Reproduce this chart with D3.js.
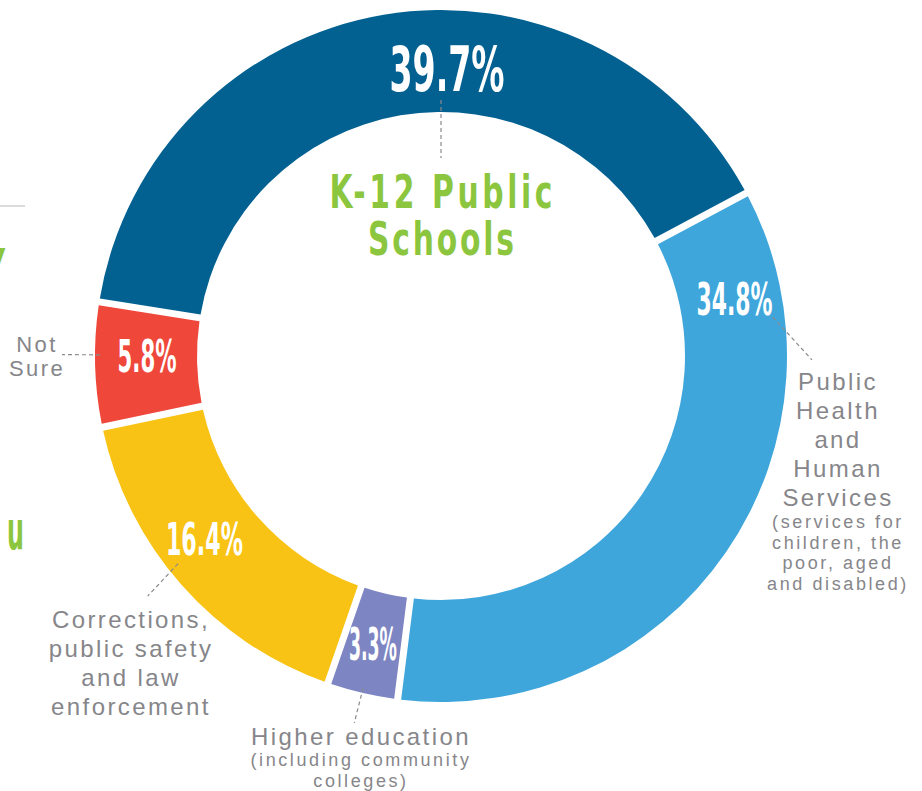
<!DOCTYPE html>
<html>
<head>
<meta charset="utf-8">
<script src="https://cdn.jsdelivr.net/npm/d3@7"></script>
<style>
  html, body { margin: 0; padding: 0; background: #fff; }
  svg { display: block; }
</style>
</head>
<body>
<div id="chart"></div>
<script>
// data
var categories = ["K-12 Public Schools", "Public Health and Human Services", "Higher education",
                  "Corrections, public safety and law enforcement", "Not Sure"];
var values = [39.7, 34.8, 3.3, 16.4, 5.8];
var colors = ["#036192", "#3fa6db", "#7d85c2", "#f8c315", "#ef473a"];

// label text, split the way the picture wraps it
var nameLines = [
  [],
  ["Public", "Health", "and", "Human", "Services"],
  ["Higher education"],
  ["Corrections,", "public safety", "and law", "enforcement"],
  ["Not", "Sure"]
];
var noteLines = [
  [],
  ["(services for", "children, the", "poor, aged", "and disabled)"],
  ["(including community", "colleges)"],
  [],
  []
];

(function() {
    'use strict';
    var width = 922, height = 791;
    var cx = 441, cy = 356;
    var outerR = 346, innerR = 244;
    var deg = Math.PI / 180;
    var startA = -81 * deg;
    var grey = "#86868a", green = "#8cc63f";
    var condensed = "'Liberation Sans Narrow', 'DejaVu Sans Condensed', 'Roboto Condensed', Arial, sans-serif";
    var plain = "'Liberation Sans', Arial, Helvetica, sans-serif";

    // layout per slice: where the % sits, its size, and the leader line (angle deg, radius)
    var layout = [
      {pa: 1.2,   pr: 288, fs: 63, w: 115, lead: [[0, 256], [0, 198]]},
      {pa: 79,    pr: 299, fs: 44, w: 76,  lead: [[83.3, 334], [90.6, 371]], tx: 838, ty: 390, step: 29, fz: 24, ny: 528},
      {pa: 193.3, pr: 296, fs: 44, w: 48,  lead: [[193.2, 341], [193.3, 377]], tx: 361, ty: 745, step: 29, fz: 24, ny: 766},
      {pa: 232.3, pr: 299, fs: 44, w: 77,  lead: [[231.7, 335], [230.7, 379]], tx: 131, ty: 628, step: 29, fz: 24},
      {pa: 270,   pr: 294, fs: 44, w: 59,  lead: [[270.2, 341], [270.2, 379]], tx: 37, ty: 352, step: 24, fz: 22}
    ];

    function polar(a, r) {
      return [cx + r * Math.sin(a * deg), cy - r * Math.cos(a * deg)];
    }

    var svg = d3.select("#chart").append("svg").attr("width", width).attr("height", height);

    /*Fragments of the neighbouring panel at the left edge*/
    svg.append("line").attr("x1", 0).attr("x2", 25).attr("y1", 206).attr("y2", 206)
       .style("stroke", "#cfcfcf").style("stroke-width", 1.5);
    svg.append("text").text("y").attr("x", 6).attr("y", 272).attr("text-anchor", "end")
       .style("font-family", condensed).style("font-weight", "bold").style("font-size", "44px").style("fill", green);
    svg.append("text").text("u").attr("x", 7).attr("y", 549).attr("textLength", 17).attr("lengthAdjust", "spacingAndGlyphs")
       .style("font-family", condensed).style("font-weight", "bold").style("font-size", "54px").style("fill", green);

    /*Draw Donut*/
    var pie = d3.pie().sort(null).value(function(d){return d;})
                .startAngle(startA).endAngle(startA + 2 * Math.PI);
    var arcs = pie(values);
    var arc = d3.arc().innerRadius(innerR).outerRadius(outerR).padAngle(7 / 300).padRadius(300);

    var g = svg.append("g").attr("transform", "translate(" + cx + "," + cy + ")");
    g.selectAll("path.slice").data(arcs).enter().append("path")
      .attr("class", "slice")
      .attr("d", arc)
      .style("fill", function(d, i){return colors[i];});

    /*Leader lines*/
    svg.selectAll("line.lead").data(layout).enter().append("line")
      .attr("class", "lead")
      .attr("x1", function(d){return polar(d.lead[0][0], d.lead[0][1])[0];})
      .attr("y1", function(d){return polar(d.lead[0][0], d.lead[0][1])[1];})
      .attr("x2", function(d){return polar(d.lead[1][0], d.lead[1][1])[0];})
      .attr("y2", function(d){return polar(d.lead[1][0], d.lead[1][1])[1];})
      .style("stroke", "#8a8a8e").style("stroke-width", 1.2).style("stroke-dasharray", "4,3");

    /*Percent labels*/
    svg.selectAll("text.pct").data(arcs).enter().append("text")
      .attr("class", "pct")
      .text(function(d){return d.value.toFixed(1) + "%";})
      .attr("text-anchor", "middle")
      .attr("x", function(d, i){return polar(layout[i].pa, layout[i].pr)[0];})
      .attr("y", function(d, i){return polar(layout[i].pa, layout[i].pr)[1] + layout[i].fs * 0.729 / 2;})
      .attr("textLength", function(d, i){return layout[i].w;})
      .attr("lengthAdjust", "spacingAndGlyphs")
      .style("font-family", condensed).style("font-weight", "bold")
      .style("font-size", function(d, i){return layout[i].fs + "px";})
      .style("fill", "#fff");

    /*Big green title for the largest slice: narrow glyphs, wide tracking*/
    var title = categories[0].split(" ");
    var titleLines = [title.slice(0, 2).join(" "), title.slice(2).join(" ")];
    var sx = 0.72;
    svg.selectAll("text.title").data(titleLines).enter().append("text")
      .attr("class", "title")
      .text(function(d){return d;})
      .attr("transform", function(d, i){return "translate(" + cx + "," + (208 + i * 47) + ") scale(" + sx + ",1)";})
      .attr("text-anchor", "middle")
      .attr("textLength", function(d, i){return (i === 0 ? 223 : 146) / sx;})
      .attr("lengthAdjust", "spacing")
      .style("font-family", condensed).style("font-weight", "bold").style("font-size", "46px")
      .style("fill", green);

    /*Category names*/
    layout.forEach(function(L, i) {
      if (!L.tx) return;
      nameLines[i].forEach(function(s, k) {
        svg.append("text").text(s)
          .attr("x", L.tx).attr("y", L.ty + k * L.step)
          .attr("text-anchor", "middle")
          .style("font-family", plain).style("font-size", L.fz + "px").style("letter-spacing", "2.4px")
          .style("fill", grey);
      });
      noteLines[i].forEach(function(s, k) {
        svg.append("text").text(s)
          .attr("x", L.tx).attr("y", L.ny + k * 20.5)
          .attr("text-anchor", "middle")
          .style("font-family", plain).style("font-size", "18px").style("letter-spacing", "2.6px")
          .style("fill", grey);
      });
    });
}).call(this);
</script>
</body>
</html>
